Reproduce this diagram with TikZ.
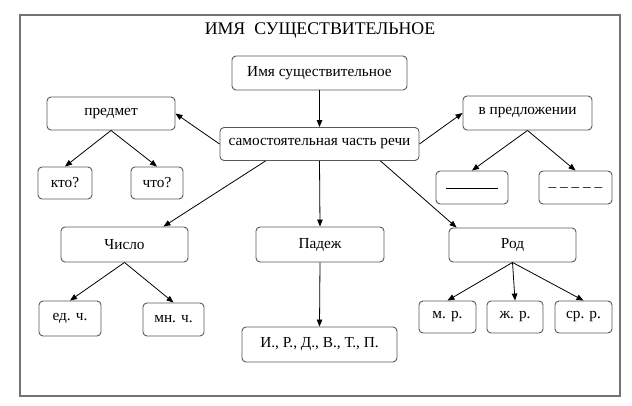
\documentclass[tikz,border=0pt]{standalone}
\usepackage{fontspec}
\setmainfont{Liberation Serif}
\usetikzlibrary{arrows.meta}

\tikzset{
	box/.style={draw=black!65, line width=0.9pt, rounded corners=4pt, fill=white,
		inner sep=0pt, font=\fontsize{15.3}{17}\selectfont},
	arr/.style={line width=0.8pt, -{Triangle[length=7pt, width=5.5pt]}}
}

\begin{document}
\begin{tikzpicture}[x=1pt, y=-1pt]

		\useasboundingbox (0,0) rectangle (632,406);
		\draw[black!55, line width=1.3pt] (20,15) rectangle (620,396);
		\node[font=\fontsize{17.8}{20}\selectfont] (title) at (320,31) {ИМЯ\ \ СУЩЕСТВИТЕЛЬНОЕ};

		% boxes: name/x/y/width/height/text
		\foreach \name/\x/\y/\w/\h/\txt in {
				top/319.5/73/175/34/{Имя существительное},
				sam/319.5/144/199/33/{самостоятельная часть речи},
				pred/111/113.5/128/33/{предмет},
				vpr/527.5/113/129/34/{в предложении},
				kto/65/183/54/32/{кто?},
				chto/157/183/52/32/{что?},
				solid/472/187.5/72/33/{\rule[-2pt]{52pt}{0.8pt}},
				dash/575.5/187.5/73/33/{\_ \_ \_ \_ \_},
				chislo/124.5/244.5/127/35/{Число},
				padezh/320/244.5/128/35/{Падеж},
				rod/512.5/245/127/34/{Род},
				ed/70/318.5/62/35/{ед. ч.},
				mn/173.5/319.5/61/33/{мн. ч.},
				ird/319.5/344.5/155/35/{И., Р., Д., В., Т., П.},
				mr/447.5/317/57/32/{м. р.},
				zhr/515/317/56/32/{ж. р.},
				srr/583.5/317/57/32/{ср. р.}
			} {
				\node[box, minimum width=\w pt, minimum height=\h pt] (\name) at (\x,\y) {\txt};
			}

		% straight down links
		\foreach \a/\b in {top/sam, sam/padezh, padezh/ird, pred/kto, pred/chto,
				vpr/solid, vpr/dash, chislo/ed, chislo/mn, rod/mr, rod/zhr, rod/srr} {
				\draw[arr] (\a.south) -- (\b.north);
			}

		\draw[arr] (sam.west) -- (pred.east);
		\draw[arr] (sam.east) -- (vpr.west);
		\draw[arr] ([xshift=46pt]sam.south west) -- ([xshift=-25pt]chislo.north east);
		\draw[arr] ([xshift=-39pt]sam.south east) -- ([xshift=8pt]rod.north west);

	\end{tikzpicture}
\end{document}
